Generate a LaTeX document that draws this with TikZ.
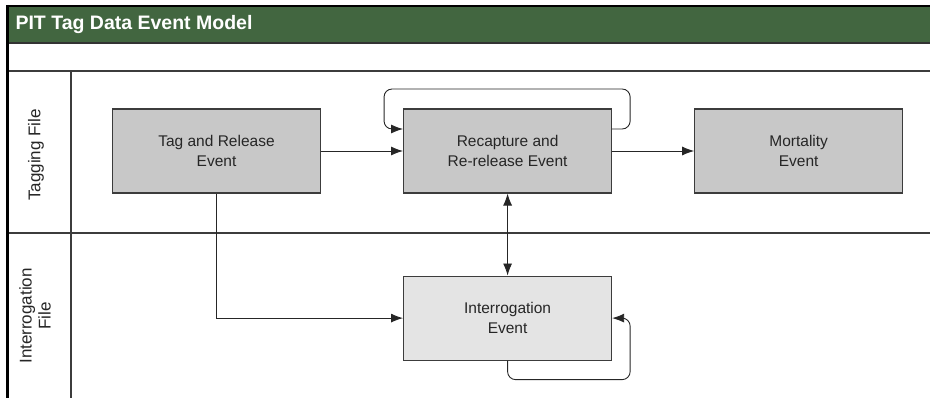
\documentclass[tikz,border=0pt]{standalone}
\usepackage{fontspec}
\setmainfont{Liberation Sans}
\usetikzlibrary{arrows.meta,positioning}
\definecolor{hdrgreen}{RGB}{66,102,64}
\definecolor{boxgrey}{RGB}{200,200,200}
\definecolor{lightgrey}{RGB}{228,228,228}
\definecolor{linegrey}{RGB}{60,60,60}

\begin{document}
\begin{tikzpicture}[x=1pt,y=-1pt,node distance=82pt and 82pt]

\tikzset{eventnode/.style={font=\fontsize{15.5}{20}\selectfont,text=black!85,align=center,draw=linegrey,line width=1.1pt,fill=boxgrey,minimum width=208pt,minimum height=84pt,inner sep=0pt},
flow/.style={line width=0.9pt,draw=black!85,-{Latex[length=12pt,width=9pt]}},
lane/.style={line width=1.2pt,draw=linegrey},
lanelabel/.style={font=\fontsize{17}{19}\selectfont,text=black!85,rotate=90,align=center}}

\useasboundingbox (0,0) rectangle (930,398);

% Frame and header
\fill[hdrgreen] (9,7) rectangle (930,43);
\draw[line width=1.5pt,draw=black!80] (9,43) -- (930,43);
\draw[line width=2pt] (6,6) -- (930,6);
\draw[line width=3pt] (7.5,5) -- (7.5,398);
\node[anchor=west,text=white,font=\fontsize{19.5}{21}\selectfont\bfseries] (title) at (12,25) {PIT Tag Data Event Model};

% Swim lanes
\draw[lane] (9,71) -- (930,71);
\draw[lane] (9,233) -- (930,233);
\draw[lane] (71,71) -- (71,398);
\node[lanelabel] (tagLane) at (36,155) {Tagging File};
\node[lanelabel] (intLane) at (35,316) {Interrogation\\File};

% Event nodes
\node (tag) [eventnode] at (216.5,151) {Tag and Release\\Event};
\node (rec) [right=of tag,eventnode] {Recapture and\\Re-release Event};
\node (mort) [right=of rec,eventnode] {Mortality\\Event};
\node (int) [below=of rec,eventnode,fill=lightgrey] {Interrogation\\Event};

% Edges
\draw[flow] (tag) -- (rec);
\draw[flow] (rec) -- (mort);
\draw[flow,{Latex[length=12pt,width=9pt]}-{Latex[length=12pt,width=9pt]}] (rec) -- (int);
\draw[flow] (tag.south) |- (int.west);
\draw[flow,rounded corners=8pt] ([yshift=22pt]rec.east) -- ++(18,0) -- ++(0,-40) -| ([xshift=-19pt,yshift=22pt]rec.west) -- ([yshift=22pt]rec.west);
\draw[flow,rounded corners=8pt] (int.south) -- ++(0,19) -| ([xshift=18pt]int.east) -- (int.east);

\end{tikzpicture}
\end{document}
